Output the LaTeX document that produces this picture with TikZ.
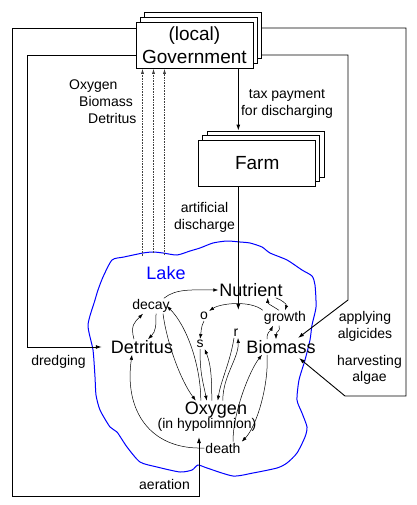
\documentclass[tikz,border=0pt]{standalone}
\usepackage{fontspec}
\setmainfont{Liberation Sans}
\usetikzlibrary{positioning, arrows.meta, calc, shadows}

\begin{document}
\begin{tikzpicture}[x=1pt, y=-1pt,
    agent/.style={rectangle, draw=black, fill=white, line width=0.8pt,
                  minimum width=117pt, minimum height=46pt, align=center,
                  font=\fontsize{19}{23.3}\selectfont,
                  copy shadow={shadow xshift=8.5pt, shadow yshift=9.5pt},
                  copy shadow={shadow xshift=4pt, shadow yshift=5pt}},
    big/.style={font=\fontsize{18}{22}\selectfont, inner sep=1pt},
    small/.style={font=\fontsize{14}{17}\selectfont, inner sep=1pt, align=center},
    link/.style={-{Latex[length=6pt, width=4pt]}, line width=0.9pt},
    flow/.style={-{Latex[length=5pt, width=3.5pt]}, line width=0.5pt},
    report/.style={-{Latex[length=5pt, width=3pt]}, line width=0.6pt, black!75, densely dotted}
]
    \useasboundingbox (0,0) rectangle (416,505);

    % Lake outline
    \draw[blue, line width=1pt] plot[smooth cycle, tension=0.4] coordinates {
        (112,260) (124,257) (143,253) (153,252) (163,253) (177,255) (190,251)
        (200,248) (213,243) (227,241) (240,242) (250,243) (262,247) (270,253)
        (287,260) (302,270) (312,276) (315,285) (316,307) (312,325) (310,340)
        (305,360) (299,380) (297,400) (302,413) (307,427) (305,437) (297,453)
        (287,463) (277,468) (253,473) (233,476) (207,468) (198,465) (192,470)
        (180,472) (157,467) (140,462) (127,447) (117,432) (110,427) (100,410)
        (96,395) (95,377) (93,350) (88,325) (95,300) (98,290) (103,277)};
    \node[big, blue] (lake) at (166,273) {Lake};

    % Government and farm
    \node[agent] (gov) at (194.4,45.4) {(local)\\Government};
    \node[agent] (farm) at (257.2,163.5) {Farm};

    % Lake components
    \node[big] (nut) at (251,290) {Nutrient};
    \node[small] (decay) at (151,306) {decay};
    \node[big] (det) at (142,347) {Detritus};
    \node[small] (o) at (204,316) {o};
    \node[small] (s) at (200,344) {s};
    \node[small] (r) at (236,333) {r};
    \node[small] (growth) at (285,318) {growth};
    \node[big] (bio) at (281,347) {Biomass};
    \node[big] (oxy) at (216,410) {Oxygen};
    \node[small] (hypo) at (207,425) {(in hypolimnion)};
    \node[small] (death) at (223,448) {death};

    % Labels of the outer flows
    \node[small, anchor=base west] (oxylab) at (68,90) {Oxygen};
    \node[small, anchor=base west] (biolab) at (78,107) {Biomass};
    \node[small, anchor=base west] (detlab) at (87,124) {Detritus};
    \node[small] (taxlab) at (287,104) {tax payment\\for discharging};
    \node[small] (artlab) at (204.5,217.5) {artificial\\discharge};
    \node[small] (aerlab) at (164.5,484) {aeration};
    \node[small] (dredlab) at (58.5,362) {dredging};
    \node[small] (alglab) at (365,326) {applying\\algicides};
    \node[small, font=\fontsize{14}{15.5}\selectfont] (harvlab) at (369.5,370) {harvesting\\algae};

    % Monitoring: lake to government
    \coordinate (rep1) at (142.5,256);
    \coordinate (rep2) at (153.5,253);
    \coordinate (rep3) at (164.5,255);
    \draw[report] (rep1) -- (gov.south -| rep1);
    \draw[report] (rep2) -- (gov.south -| rep2);
    \draw[report] (rep3) -- (gov.south -| rep3);

    % Tax payment and discharge
    \coordinate (fx) at ($(farm.north west)+(40,0)$);
    \coordinate (inflow) at (238.3,310);
    \draw[link] (gov.south -| fx) -- ($(farm.north -| fx)+(0,-9.5)$);
    \draw[link] (farm.south -| fx) -- (inflow);

    % Aeration and dredging
    \coordinate (ga) at (0,28);
    \coordinate (gb) at (0,55);
    \coordinate (aercorner) at (12,496);
    \coordinate (aerin) at (199,437);
    \coordinate (dredcorner) at (27,347);
    \draw[link] (gov.west |- ga) -| (aercorner) -| (aerin);
    \draw[link] (gov.west |- gb) -| (dredcorner) -- ([xshift=-8pt]det.west);

    % Algicides and harvesting
    \coordinate (algcorner) at (348,300);
    \coordinate (algin) at (298,338);
    \coordinate (harvcorner) at (406,396);
    \coordinate (harvbend) at (345,396);
    \coordinate (harvin) at (299,358);
    \draw[link] ($(gov.east |- gb)+(8.5,0)$) -| (algcorner) -- (algin);
    \draw[link] ($(gov.east |- ga)+(8.5,0)$) -| (harvcorner) -- (harvbend) -- (harvin);

    % Detritus cycle
    \draw[flow] ([xshift=-7pt]decay.north east) .. controls +(12,-10) and +(-25,0) .. (nut.west);
    \draw[flow] ([xshift=-8pt]det.north) .. controls +(-4,-14) and +(-8,8) .. ([xshift=-8pt]decay.south);
    \draw[flow] ([xshift=5pt]decay.south) .. controls +(0,12) and +(8,-8) .. ([xshift=6pt]det.north);
    \draw[flow] ([xshift=12pt]decay.south) .. controls +(4,30) and +(-15,-20) .. ([xshift=12pt]oxy.north west);
    \draw[flow] ([xshift=17pt]oxy.north west) .. controls +(0,-35) and +(20,20) .. ([xshift=-4pt]decay.east);

    % Nutrient cycle
    \draw[flow] (growth.north west) .. controls +(-12,-10) and +(12,-8) .. (o.north east);
    \draw[flow] (o.south) .. controls +(-3,5) and +(1,-6) .. (s.north);
    \draw[flow] (s.south) .. controls +(0,25) and +(-4,-20) .. ([xshift=23pt]oxy.north west);
    \draw[flow] ([xshift=28pt]oxy.north west) .. controls +(0,-25) and +(6,15) .. (s.south east);
    \draw[flow] ([xshift=-2pt]r.south) .. controls +(-4,25) and +(3,-20) .. ([xshift=34pt]oxy.north west);
    \draw[flow] ([xshift=39pt]oxy.north west) .. controls +(0,-25) and +(1,20) .. ([xshift=2pt]r.south);

    % Biomass cycle
    \draw[flow] ([xshift=-6pt]growth.north) .. controls +(-6,-4) and +(0,6) .. ([xshift=-16pt]nut.south east);
    \draw[flow] ([xshift=-8pt]nut.south east) .. controls +(6,2) and +(2,-6) .. (growth.north);
    \draw[flow] ([xshift=-14pt]bio.north) .. controls +(0,-8) and +(-3,6) .. ([xshift=-12pt]growth.south);
    \draw[flow] ([xshift=-6pt]growth.south) .. controls +(2,6) and +(0,-8) .. ([xshift=-5pt]bio.north);

    % Death
    \draw[flow] ([xshift=10pt]death.north) .. controls +(0,-30) and +(-12,15) .. ([xshift=-19pt]bio.south);
    \draw[flow] ([xshift=-14pt]bio.south) .. controls +(2,30) and +(15,-15) .. (death.north east);
    \draw[flow] (death.west) .. controls +(-55,2) and +(-8,55) .. ([xshift=-10pt]det.south);

\end{tikzpicture}
\end{document}
